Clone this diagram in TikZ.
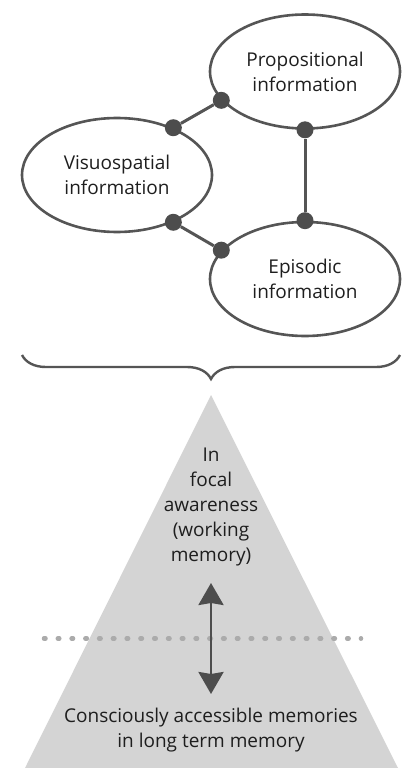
\documentclass[tikz,border=0pt]{standalone}
\usepackage{fontspec}
\setmainfont{Open Sans}
\usepackage{tikz}
\usetikzlibrary{shapes.geometric,arrows.meta,decorations.pathreplacing,positioning}
\definecolor{linegray}{HTML}{555555}
\definecolor{dotgray}{HTML}{4D4D4D}
\definecolor{pyrgray}{HTML}{D4D4D4}
\definecolor{sepgray}{HTML}{ABABAB}
\definecolor{txtgray}{HTML}{1E1E1E}
\tikzstyle{info} = [ellipse,draw=linegray,line width=2.6pt,minimum width=190pt,minimum height=114pt,align=center,text=txtgray]
\tikzstyle{joint} = [circle,fill=dotgray,inner sep=0pt,minimum size=17pt]
\tikzstyle{link} = [draw=linegray,line width=3pt]
\tikzstyle{arrow} = [line width=2.8pt,draw=dotgray,{Stealth[inset=2pt,length=22pt,width=25pt]}-{Stealth[inset=2pt,length=22pt,width=25pt]}]

\begin{document}
\begin{tikzpicture}[x=1pt,y=-1pt,font=\fontsize{19}{25}\selectfont]

	\useasboundingbox (0,0) rectangle (402,768);

	%% the three kinds of information
	\node[info] (Prop) at (305,71.5) {Propositional\\information};
	\node[info] (Visu) at (117,175) {Visuospatial\\information};
	\node[info] (Epis) at (305,279) {Episodic\\information};

	%% joints on the borders
	\node[joint] (PV) at (Prop.199) {};
	\node[joint] (VP) at (Visu.40) {};
	\node[joint] (PE) at (Prop.270) {};
	\node[joint] (EP) at (Epis.90) {};
	\node[joint] (VE) at (Visu.320) {};
	\node[joint] (EV) at (Epis.161) {};

	\draw[link] (PV) -- (VP);
	\draw[link] (PE) -- (EP);
	\draw[link] (VE) -- (EV);

	%% brace under the ellipses
	\coordinate (B1) at (22,355);
	\coordinate (B2) at (400,355);
	\draw[draw=linegray,line width=2.4pt,decorate,decoration={brace,mirror,amplitude=24pt}] (B1) -- (B2);

	%% the pyramid
	\coordinate (T1) at (211,395); % apex
	\coordinate (T2) at (25,768);
	\coordinate (T3) at (398,768);
	\fill[pyrgray] (T1) -- (T2) -- (T3) -- cycle;

	%% separating dotted line
	\coordinate (S1) at (44,638.5);
	\coordinate (S2) at (361,638.5);
	\draw[sepgray,line width=4.5pt,line cap=round,dash pattern=on 1.5pt off 12.28pt] (S1) -- (S2);

	\node[align=center,text=txtgray] (Focal) at (211,507) {In\\focal\\awareness\\(working\\memory)};
	\node[align=center,text=txtgray] (Access) at (211,730) {Consciously accessible memories\\in long term memory};

	\coordinate (U) at (211,583);
	\coordinate (D) at (211,694);
	\draw[arrow] (U) -- (D);

\end{tikzpicture}
\end{document}
